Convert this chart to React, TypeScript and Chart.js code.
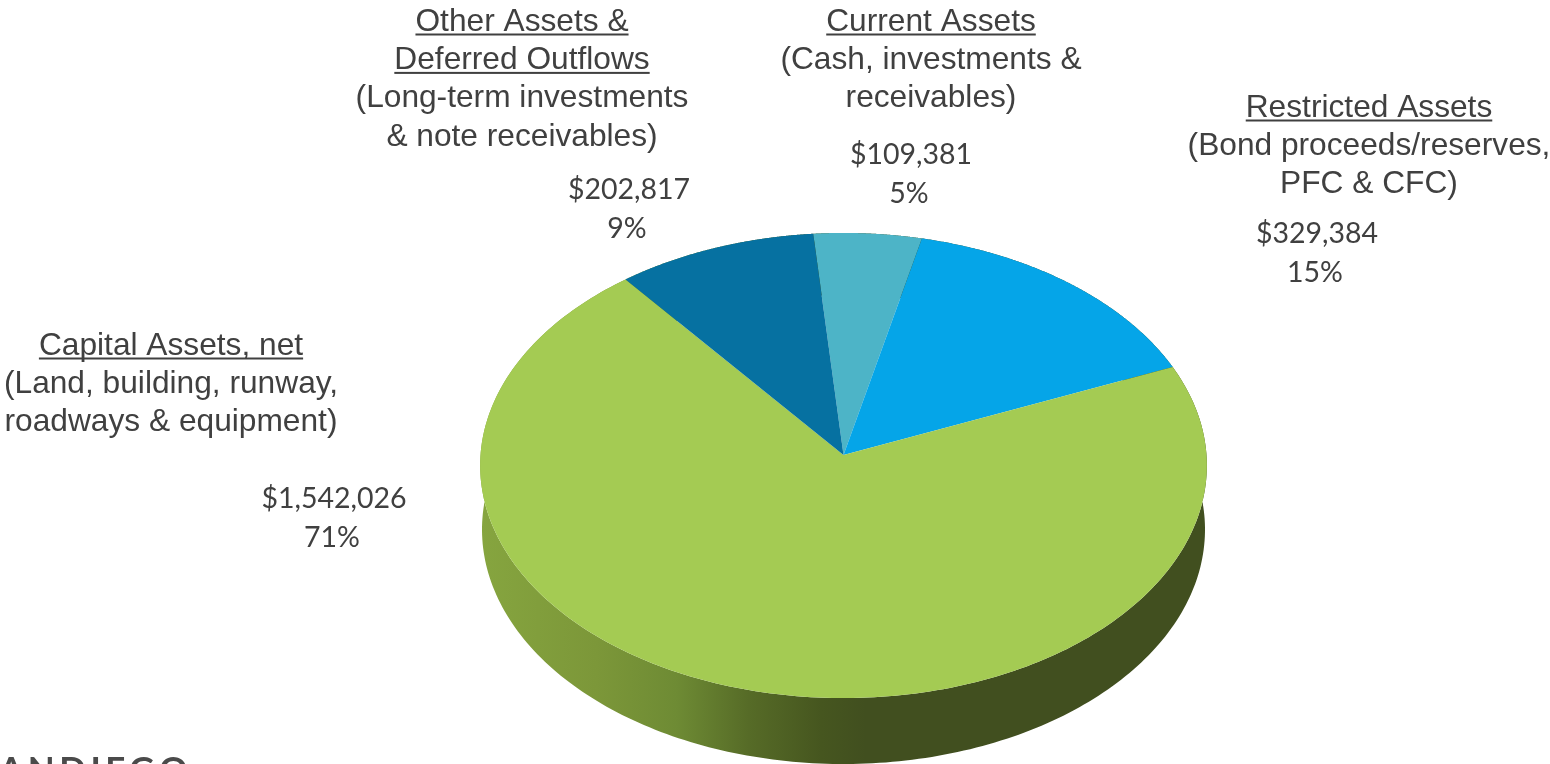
import React, { useEffect, useRef } from "react";
import { Chart, registerables } from "chart.js";

Chart.register(...registerables);

const categories = ["Current Assets", "Restricted Assets", "Capital Assets, net", "Other Assets & Deferred Outflows"];
const values = [109381, 329384, 1542026, 202817];
const percents = ["5%", "15%", "71%", "9%"];
const moneyLabels = ["$109,381", "$329,384", "$1,542,026", "$202,817"];
const colors = ["#4DB4C7", "#05A5E8", "#A4CB53", "#0671A1"];

const headingLines = [["Current Assets"], ["Restricted Assets"], ["Capital Assets, net"], ["Other Assets &", "Deferred Outflows"]];
const noteLines = [
  ["(Cash, investments &", "receivables)"],
  ["(Bond proceeds/reserves,", "PFC & CFC)"],
  ["(Land, building, runway,", "roadways & equipment)"],
  ["(Long-term investments", "& note receivables)"],
];
// label anchor points: text block centre x, first baseline y
const headingAnchors = [[931, 30.5], [1369, 116.5], [171, 354.5], [522, 30.5]];
const moneyAnchors = [[911, 164], [1317, 243], [334, 508], [629, 199]];

const TEXT = "#404040";
const ARIAL = '"Liberation Sans", Arial, sans-serif';
const CALIBRI = 'Lato, sans-serif';
const SIZE = 31.7;
const LINE = 38.4;
const MONEY_SIZE = 28.5;

// projection of the flat pie on to the tilted top face
const RX = 363;
const RY = 232.1;
const K = -0.0452;
const DEPTH_CY = 74.5;
const DEPTH_RX = 361.5;
const DEPTH_RY = 234.5;

const pieProjection = {
  id: "pieProjection",
  beforeDatasetsDraw(chart: any) {
    const ctx = chart.ctx;
    const arcs = chart.getDatasetMeta(0).data;
    const top = (cx: number, cy: number, t: number) => {
      const u = Math.cos(t), v = Math.sin(t), w = 1 + K * v;
      return [cx + (RX * u) / w, cy + (RY * v) / w];
    };
    const base = (cx: number, cy: number, t: number) => [
      cx + DEPTH_RX * Math.cos(t),
      cy + DEPTH_CY + DEPTH_RY * Math.sin(t),
    ];
    const wall = ctx.createLinearGradient(480, 0, 1207, 0);
    [
      [0, "#86A53F"], [0.16, "#7C9739"], [0.27, "#6E8B34"], [0.37, "#566B27"],
      [0.47, "#46561F"], [0.53, "#414F1F"], [1, "#414F1F"],
    ].forEach(([o, c]) => wall.addColorStop(o as number, c as string));

    // side wall
    arcs.forEach((a: any) => {
      const n = 240;
      ctx.beginPath();
      for (let i = 0; i <= n; i++) {
        const t = a.startAngle + ((a.endAngle - a.startAngle) * i) / n;
        const [x, y] = top(a.x, a.y, t);
        i ? ctx.lineTo(x, y) : ctx.moveTo(x, y);
      }
      for (let i = n; i >= 0; i--) {
        const t = a.startAngle + ((a.endAngle - a.startAngle) * i) / n;
        const [x, y] = base(a.x, a.y, t);
        ctx.lineTo(x, y);
      }
      ctx.closePath();
      ctx.fillStyle = wall;
      ctx.fill();
    });

    // top face
    arcs.forEach((a: any) => {
      const n = 240;
      ctx.beginPath();
      ctx.moveTo(a.x, a.y);
      for (let i = 0; i <= n; i++) {
        const t = a.startAngle + ((a.endAngle - a.startAngle) * i) / n;
        const [x, y] = top(a.x, a.y, t);
        ctx.lineTo(x, y);
      }
      ctx.closePath();
      ctx.fillStyle = a.options.backgroundColor;
      ctx.fill();
    });
    return false;
  },
  afterDraw(chart: any) {
    const ctx = chart.ctx;
    ctx.save();
    ctx.textAlign = "center";
    ctx.textBaseline = "alphabetic";
    ctx.fillStyle = TEXT;
    categories.forEach((_, i) => {
      const [cx, y0] = headingAnchors[i];
      let y = y0;
      ctx.font = `${SIZE}px ${ARIAL}`;
      headingLines[i].forEach((line) => {
        ctx.fillText(line, cx, y);
        const w = ctx.measureText(line).width;
        ctx.fillRect(cx - w / 2, y + 3, w, 2);
        y += LINE;
      });
      noteLines[i].forEach((line) => {
        ctx.fillText(line, cx, y);
        y += LINE;
      });
      const [mx, my] = moneyAnchors[i];
      ctx.font = `${MONEY_SIZE}px ${CALIBRI}`;
      ctx.fillText(moneyLabels[i], mx, my);
      ctx.fillText(percents[i], mx - 2, my + 38.5);
    });
    // logo fragment at the bottom edge
    ctx.textAlign = "left";
    ctx.fillStyle = "#4A4A4A";
    ctx.font = `bold 35px ${CALIBRI}`;
    ctx.letterSpacing = "4.5px";
    ctx.fillText("ANDIEGO", -1, 781.5);
    ctx.restore();
  },
};

export default function App() {
  const ref = useRef<HTMLCanvasElement>(null);
  useEffect(() => {
    const chart = new Chart(ref.current as HTMLCanvasElement, {
      type: "pie",
      data: {
        labels: categories,
        datasets: [{ data: values, backgroundColor: colors, borderWidth: 0 }],
      },
      options: {
        animation: false,
        responsive: false,
        rotation: -5,
        layout: { padding: { left: 137, top: 146, right: 0, bottom: 0 } },
        plugins: { legend: { display: false }, tooltip: { enabled: false } },
        events: [],
      },
      plugins: [pieProjection],
    } as any);
    return () => chart.destroy();
  }, []);
  return (
    <canvas
      ref={ref}
      width={1550}
      height={764}
      style={{ position: "absolute", left: 0, top: 0, display: "block" }}
    />
  );
}
